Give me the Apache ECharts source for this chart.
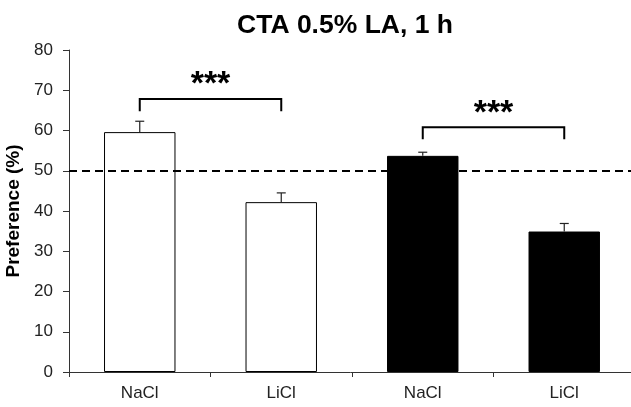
<!DOCTYPE html>
<html>
<head>
<meta charset="utf-8">
<script src="https://cdn.jsdelivr.net/npm/echarts@6/dist/echarts.min.js"></script>
<style>
html,body{margin:0;padding:0;background:#fff;}
#chart{width:631px;height:407px;}
</style>
</head>
<body>
<div id="chart"></div>
<script>
// ---- data ----
const categories = ['NaCl', 'LiCl', 'NaCl', 'LiCl'];
const means = [59.6, 42.2, 53.7, 34.9];
const sem = [2.7, 2.3, 0.9, 2.0];
const yTicks = [0, 10, 20, 30, 40, 50, 60, 70, 80];
const chanceLevel = 50;
const sigPairs = [[0, 1], [2, 3]];
const sigLabels = ['***', '***'];
const bracketTop = [67.8, 60.8];
const bracketLeg = [64.8, 57.8];

// ---- styles ----
const barFills = ['#ffffff', '#ffffff', '#000000', '#000000'];
const FONT = 'Liberation Sans, Arial, sans-serif';

const chart = echarts.init(document.getElementById('chart'), null, {renderer: 'canvas'});

const option = {
  animation: false,
  backgroundColor: '#ffffff',
  title: {
    text: 'CTA 0.5% LA, 1 h',
    left: 340,
    textAlign: 'center',
    top: 7,
    textStyle: {fontFamily: FONT, fontSize: 26.5, fontWeight: 'bold', color: '#000'}
  },
  grid: {left: 69, top: 50, width: 566, height: 322, containLabel: false, outerBoundsMode: 'none'},
  xAxis: {
    type: 'category',
    data: categories,
    boundaryGap: true,
    axisLine: {lineStyle: {color: '#333', width: 1}},
    axisTick: {show: true, length: 5, inside: false, lineStyle: {color: '#333'}},
    axisLabel: {fontFamily: FONT, fontSize: 17, color: '#222', margin: 13},
    splitLine: {show: false}
  },
  yAxis: {
    type: 'value',
    min: yTicks[0],
    max: yTicks[yTicks.length - 1],
    interval: yTicks[1] - yTicks[0],
    name: 'Preference (%)',
    nameLocation: 'middle',
    nameGap: 41,
    nameTextStyle: {fontFamily: FONT, fontSize: 19, fontWeight: 'bold', color: '#000'},
    axisLine: {show: true, lineStyle: {color: '#333', width: 1}},
    axisTick: {show: true, length: 6, inside: false, lineStyle: {color: '#333'}},
    axisLabel: {fontFamily: FONT, fontSize: 17, color: '#222', margin: 16},
    splitLine: {show: false}
  },
  series: [
    {
      type: 'bar',
      barWidth: '50.5%',
      data: means.map((v, i) => ({
        value: v,
        itemStyle: {color: barFills[i], borderColor: '#000', borderWidth: 1}
      })),
      markLine: {
        silent: true,
        symbol: 'none',
        label: {show: false},
        lineStyle: {type: [8, 5], width: 2, color: '#000'},
        data: [{yAxis: chanceLevel}]
      },
      z: 2
    },
    {
      type: 'custom',
      z: 5,
      data: means.map((m, i) => [i, m, sem[i]]),
      renderItem: function (params, api) {
        const x = api.value(0), m = api.value(1), e = api.value(2);
        const b = api.coord([x, m]);
        const t = api.coord([x, m + e]);
        const st = {stroke: '#222', lineWidth: 1.2};
        return {
          type: 'group',
          children: [
            {type: 'line', shape: {x1: b[0], y1: b[1], x2: t[0], y2: t[1]}, style: st},
            {type: 'line', shape: {x1: t[0] - 4.5, y1: t[1], x2: t[0] + 4.5, y2: t[1]}, style: st}
          ]
        };
      }
    },
    {
      type: 'custom',
      z: 6,
      data: sigPairs.map((p, i) => [p[0], p[1], bracketTop[i], bracketLeg[i]]),
      renderItem: function (params, api) {
        const a = api.value(0), b = api.value(1), top = api.value(2), leg = api.value(3);
        const p1 = api.coord([a, leg]);
        const p2 = api.coord([a, top]);
        const p3 = api.coord([b, top]);
        const p4 = api.coord([b, leg]);
        return {
          type: 'group',
          children: [
            {
              type: 'polyline',
              shape: {points: [p1, p2, p3, p4]},
              style: {stroke: '#000', lineWidth: 2, fill: null}
            },
            {
              type: 'text',
              style: {
                text: sigLabels[params.dataIndex],
                x: (p2[0] + p3[0]) / 2,
                y: p2[1] - 14,
                align: 'center',
                verticalAlign: 'middle',
                font: 'bold 34px ' + FONT,
                fill: '#000'
              }
            }
          ]
        };
      }
    }
  ]
};

chart.setOption(option);
</script>
</body>
</html>
